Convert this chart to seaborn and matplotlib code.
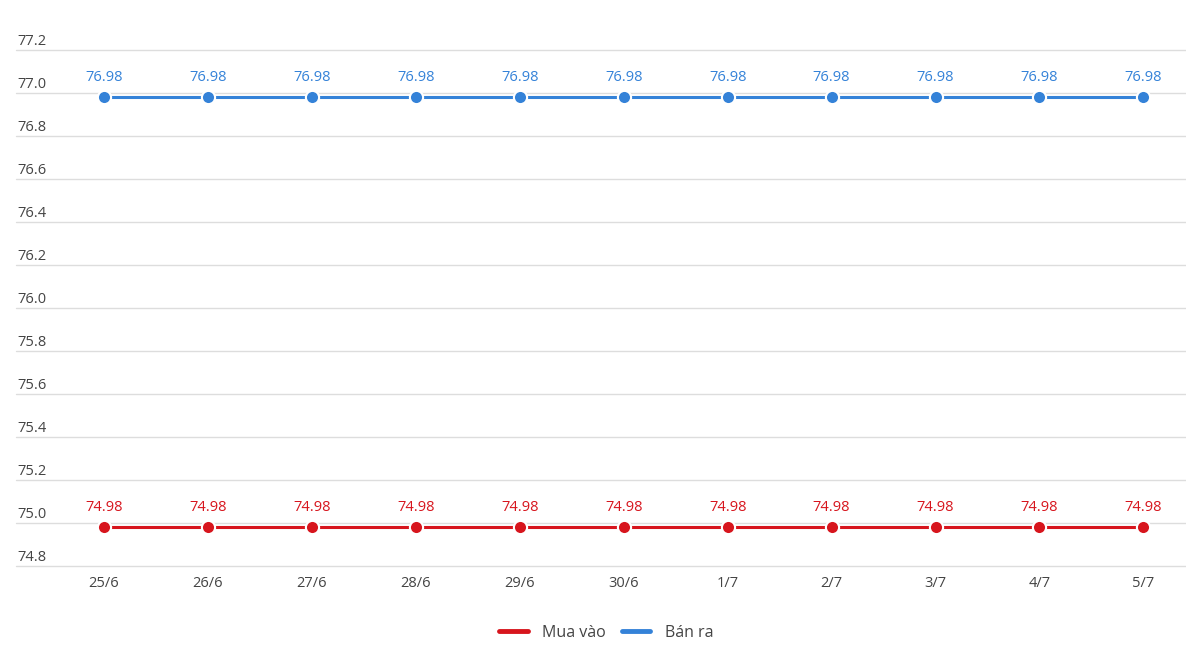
import pandas as pd
import matplotlib
matplotlib.use("Agg")
import matplotlib.pyplot as plt
import seaborn as sns
from matplotlib.lines import Line2D

# Data
dates = ["25/6", "26/6", "27/6", "28/6", "29/6", "30/6", "1/7", "2/7", "3/7", "4/7", "5/7"]
mua_vao = [74.98, 74.98, 74.98, 74.98, 74.98, 74.98, 74.98, 74.98, 74.98, 74.98, 74.98]
ban_ra = [76.98, 76.98, 76.98, 76.98, 76.98, 76.98, 76.98, 76.98, 76.98, 76.98, 76.98]
y_ticks = [74.8, 75.0, 75.2, 75.4, 75.6, 75.8, 76.0, 76.2, 76.4, 76.6, 76.8, 77.0, 77.2]

RED = "#d7151d"
BLUE = "#3482d8"

sns.set_theme(style="white")
plt.rcParams['font.family'] = ['Open Sans', 'DejaVu Sans']

df = pd.DataFrame({
    "date": dates * 2,
    "value": mua_vao + ban_ra,
    "series": ["Mua vào"] * len(dates) + ["Bán ra"] * len(dates),
})
df["x"] = list(range(len(dates))) * 2

fig = plt.figure(figsize=(11.86, 6.61), dpi=100)
ax = fig.add_axes([16 / 1186, 1 - 566 / 661, 1 - 16 / 1186, (566 - 50) / 661])

palette = {"Mua vào": RED, "Bán ra": BLUE}
sns.lineplot(data=df, x="x", y="value", hue="series", palette=palette,
             marker="o", markersize=9.5, markeredgecolor="white", markeredgewidth=1.5,
             linewidth=2.2, legend=False, ax=ax, zorder=3)

# data labels
for name, vals in [("Mua vào", mua_vao), ("Bán ra", ban_ra)]:
    for i, v in enumerate(vals):
        ax.annotate(f"{v:.2f}", (i, v), xytext=(0, 8.5), textcoords="offset points",
                    ha="center", va="bottom", fontsize=10.5, color=palette[name])

ax.set_xlim(-0.847, 10.41)
ax.set_ylim(74.8, 77.2)
ax.set_yticks(y_ticks)
ax.set_yticklabels([])
ax.tick_params(axis="y", length=0)
ax.grid(axis="y", color="#dddddd", linewidth=1)
ax.grid(axis="x", visible=False)
for gl in ax.get_ygridlines():
    gl.set_clip_on(False)
for s in ax.spines.values():
    s.set_visible(False)

# y tick labels sit above the gridlines on the left
for t in y_ticks:
    ax.annotate(f"{t:.1f}", (0.001, t), xycoords=ax.get_yaxis_transform(),
                xytext=(0, 0.5), textcoords="offset points",
                ha="left", va="bottom", fontsize=10.5, color="#444444")

ax.set_xticks(range(len(dates)))
ax.set_xticklabels(dates, fontsize=10.5, color="#444444")
ax.tick_params(axis="x", length=0, pad=7)
ax.set_xlabel("")
ax.set_ylabel("")

handles = [Line2D([0], [0], color=RED, linewidth=3.5),
           Line2D([0], [0], color=BLUE, linewidth=3.5)]
fig.legend(handles, ["Mua vào", "Bán ra"], loc="center", bbox_to_anchor=(606 / 1186, 1 - 633 / 661),
           ncol=2, frameon=False, fontsize=11.5, handlelength=1.8, columnspacing=1.0,
           handletextpad=0.9, labelcolor="#444444")

fig.savefig("out.png", dpi=100)
